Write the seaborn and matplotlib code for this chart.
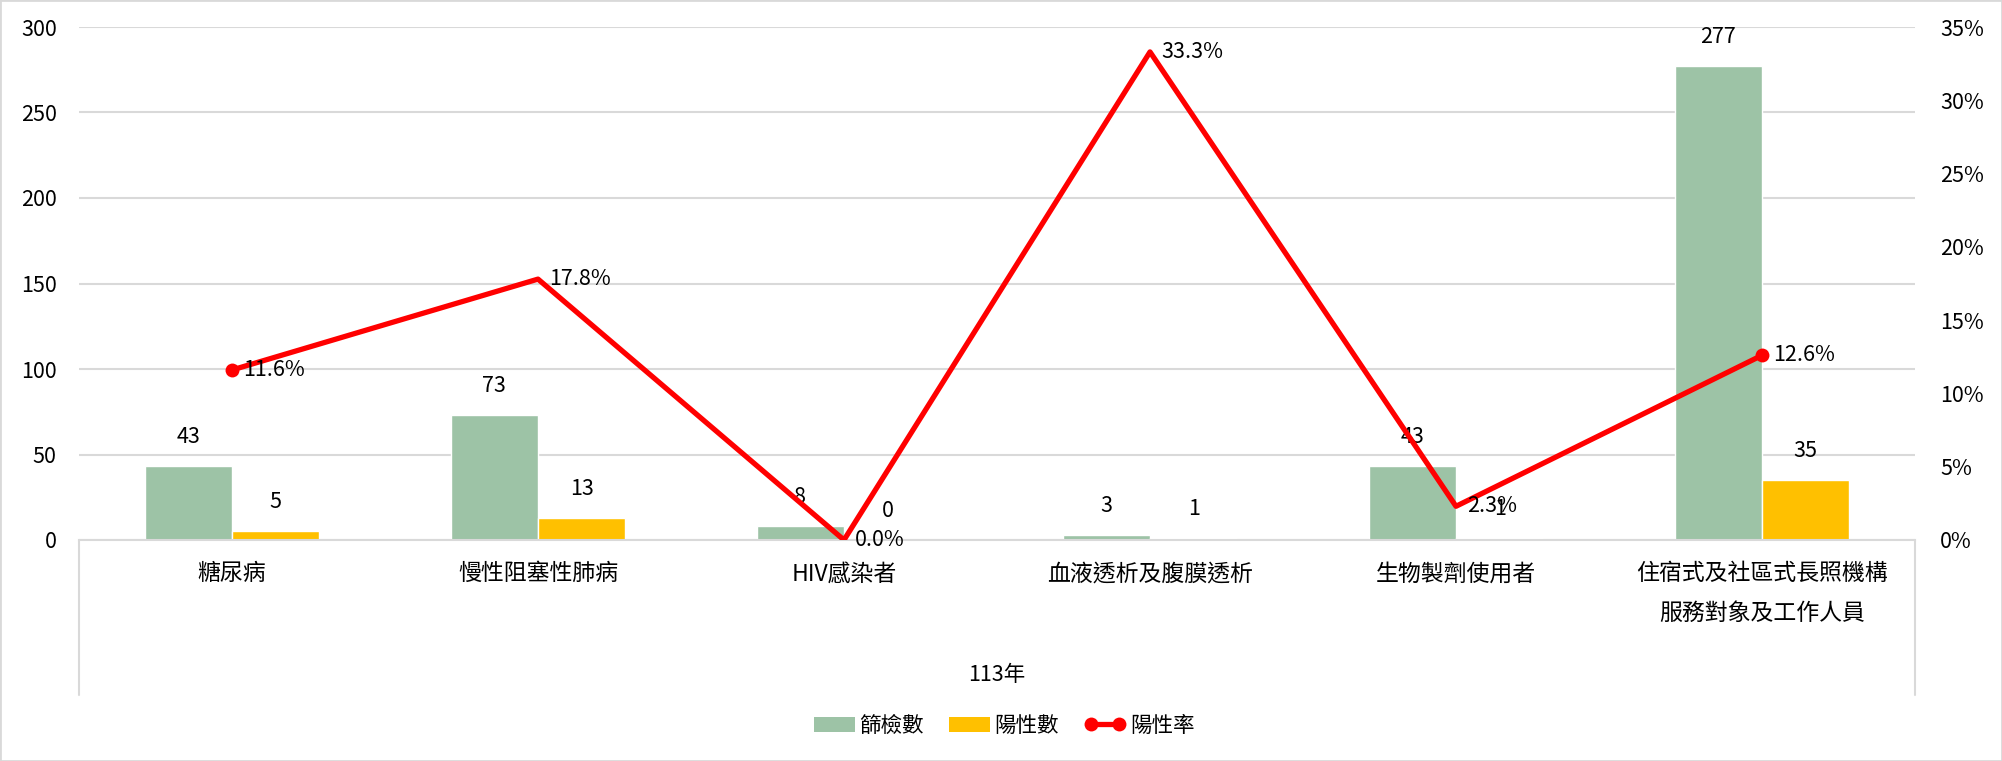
import matplotlib
matplotlib.use("Agg")
import matplotlib.pyplot as plt
from matplotlib.lines import Line2D
from matplotlib.patches import Patch, Rectangle
from matplotlib.ticker import FuncFormatter
import numpy as np
import pandas as pd
import seaborn as sns

# chart data
categories = ["糖尿病", "慢性阻塞性肺病", "HIV感染者", "血液透析及腹膜透析",
              "生物製劑使用者", "住宿式及社區式長照機構\n服務對象及工作人員"]
screened = [43, 73, 8, 3, 43, 277]
positive = [5, 13, 0, 1, 1, 35]
positive_rate = [0.116, 0.178, 0.0, 0.333, 0.023, 0.126]
series_names = ["篩檢數", "陽性數", "陽性率"]
group_label = "113年"

_green = "#9DC3A6"
_yellow = "#FFC000"
_red = "#FF0000"
_grid = "#D9D9D9"
_fs = 15.5

sns.set_theme(style="white")
plt.rcParams["font.family"] = ["Noto Sans CJK TC", "DejaVu Sans"]
plt.rcParams["text.color"] = "black"

df = pd.DataFrame({
    "category": categories * 2,
    "series": [series_names[0]] * len(categories) + [series_names[1]] * len(categories),
    "value": screened + positive,
})

fig = plt.figure(figsize=(20.02, 7.61), dpi=100)
ax = fig.add_axes([79 / 2002, 1 - 540 / 761, (1915 - 79) / 2002, (540 - 27) / 761])

sns.barplot(data=df, x="category", y="value", hue="series",
            hue_order=series_names[:2], palette=[_green, _yellow],
            width=0.57, gap=0, legend=False, ax=ax, saturation=1)

for cont in ax.containers:
    ax.bar_label(cont, labels=[f"{v:.0f}" for v in cont.datavalues],
                 padding=13, fontsize=_fs, color="black")

ax.set_ylim(0, 300)
ax.set_yticks(range(0, 301, 50))
ax.set_xlabel("")
ax.set_ylabel("")
ax.set_axisbelow(True)
ax.yaxis.grid(True, color=_grid, linewidth=1.5)
ax.tick_params(axis="y", length=0, pad=16, labelsize=_fs, labelcolor="black")
ax.tick_params(axis="x", length=0, pad=16, labelsize=16.5, labelcolor="black")
for side in ["top", "left", "right"]:
    ax.spines[side].set_visible(False)
ax.spines["bottom"].set_color(_grid)
ax.spines["bottom"].set_linewidth(1.5)

# category axis box (left / right borders below the axis)
box_depth = -(695 - 540) / 513
for xv in (0, 1):
    ax.add_line(Line2D([xv, xv], [0, box_depth], transform=ax.transAxes,
                       color=_grid, linewidth=1.5, clip_on=False))

ax2 = ax.twinx()
pos = np.arange(len(categories))
sns.lineplot(x=pos, y=positive_rate, ax=ax2, color=_red, linewidth=3.8,
             marker="o", markersize=10, markeredgewidth=0, markevery=[0, 5])
for xi, r in zip(pos, positive_rate):
    ax2.annotate(f"{r:.1%}", (xi, r), xytext=(8, 0), textcoords="offset points",
                 ha="left", va="center", fontsize=_fs, color="black")
ax2.set_ylim(0, 0.35)
ax2.set_yticks(np.arange(0, 0.351, 0.05))
ax2.yaxis.set_major_formatter(FuncFormatter(lambda v, _: f"{v * 100:.0f}%"))
ax2.tick_params(axis="y", length=0, pad=18, labelsize=_fs, labelcolor="black")
ax2.grid(False)
for side in ["top", "left", "right", "bottom"]:
    ax2.spines[side].set_visible(False)
ax.set_xlim(-0.5, len(categories) - 0.5)
ax.set_xticks(pos)
ax.set_xticklabels(categories, linespacing=1.9)

fig.text(((79 + 1915) / 2) / 2002, 1 - 675 / 761, group_label,
         ha="center", va="center", fontsize=_fs)

handles = [
    Patch(facecolor=_green, edgecolor="none"),
    Patch(facecolor=_yellow, edgecolor="none"),
    Line2D([], [], color=_red, linewidth=3.8, marker="o", markersize=10,
           markeredgewidth=0),
]
fig.legend(handles, series_names, loc="center", bbox_to_anchor=(1004 / 2002, 1 - 726 / 761),
           ncol=3, frameon=False, fontsize=_fs, numpoints=2, handlelength=1.9,
           handletextpad=0.2, columnspacing=1.2)

fig.patches.append(Rectangle((0, 0), 1, 1, transform=fig.transFigure, fill=False,
                             edgecolor=_grid, linewidth=2))

fig.savefig("out.png", dpi=100)
